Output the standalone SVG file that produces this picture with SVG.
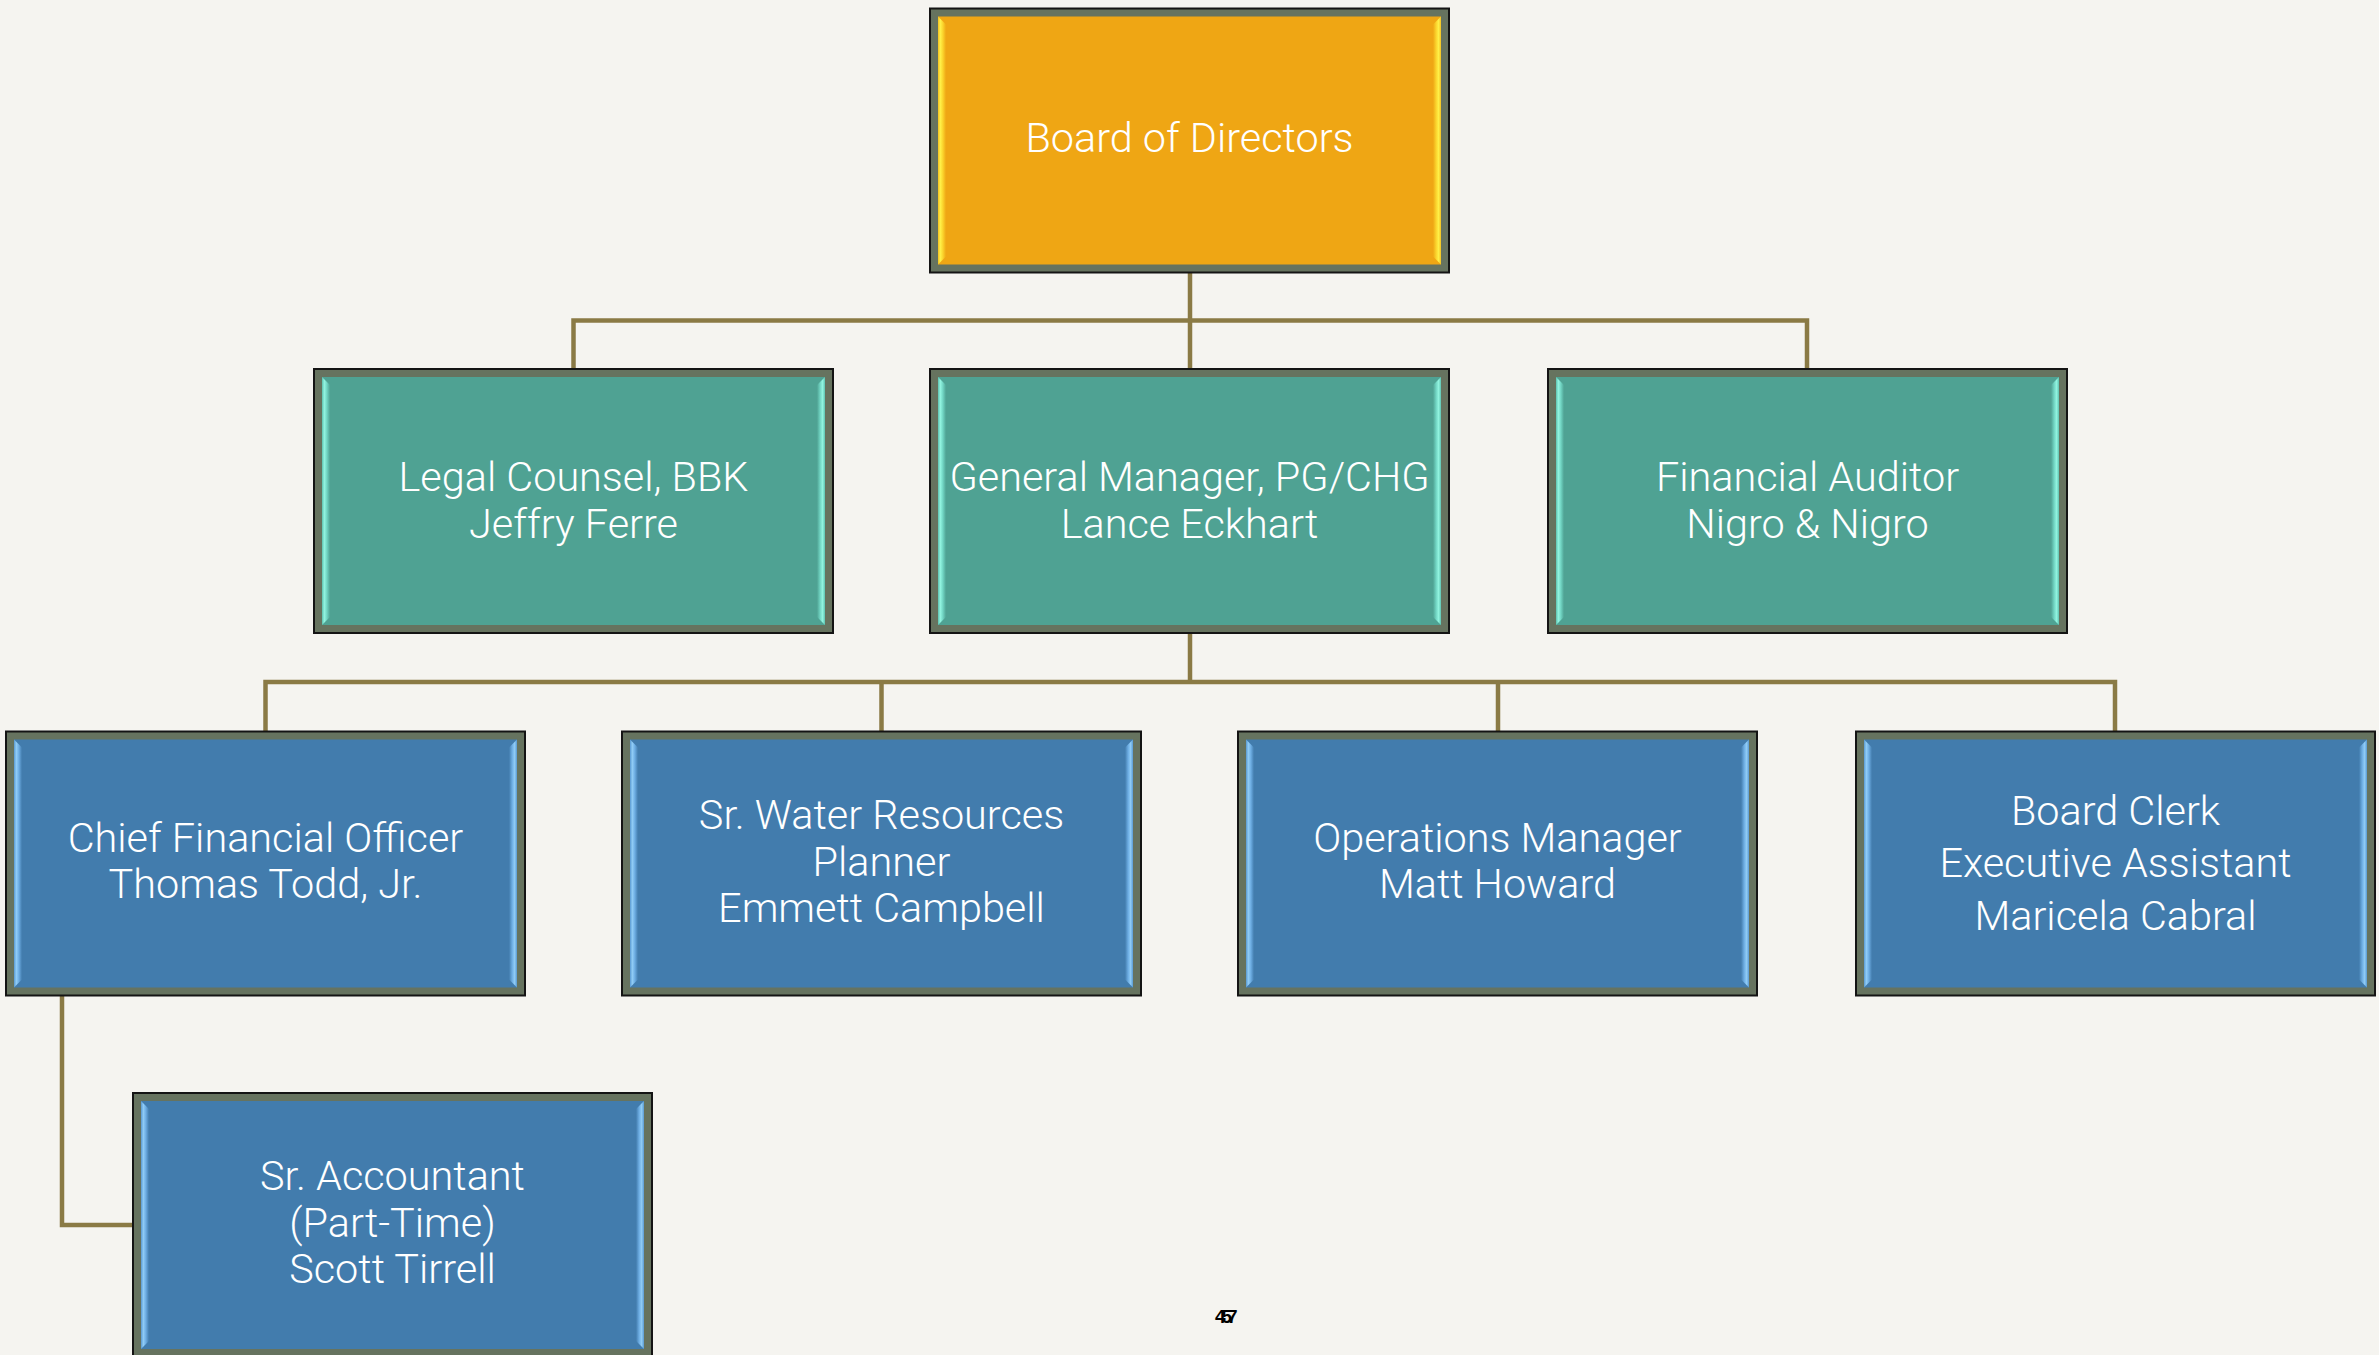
<svg xmlns="http://www.w3.org/2000/svg" xmlns:xlink="http://www.w3.org/1999/xlink" width="2379" height="1355" viewBox="0 0 2379 1355">
<style>
.bg{fill:#f5f4f0}
.frame{fill:#66735f;stroke:#141414;stroke-width:2}
.conn{fill:none;stroke:#8a7a45;stroke-width:4.5;stroke-linecap:square}
.lbl{fill:#ffffff;font-family:Roboto,"Liberation Sans",sans-serif;font-weight:300;font-size:41.4px;text-anchor:middle}
.pg{fill:#000;font-family:"Liberation Sans",Arial,sans-serif;font-weight:bold;font-size:19px}
</style>
<defs>
<linearGradient id="gL"><stop offset="0" stop-color="#f2c020"/><stop offset="0.3" stop-color="#fff048"/><stop offset="0.6" stop-color="#fbd52e"/><stop offset="1" stop-color="#efa614"/></linearGradient>
<linearGradient id="gR"><stop offset="0" stop-color="#efa614"/><stop offset="0.4" stop-color="#fbd52e"/><stop offset="0.7" stop-color="#fff048"/><stop offset="1" stop-color="#f2c020"/></linearGradient>
<linearGradient id="tL"><stop offset="0" stop-color="#5ec2b0"/><stop offset="0.3" stop-color="#92f4e0"/><stop offset="0.6" stop-color="#72d6c4"/><stop offset="1" stop-color="#4fa293"/></linearGradient>
<linearGradient id="tR"><stop offset="0" stop-color="#4fa293"/><stop offset="0.4" stop-color="#72d6c4"/><stop offset="0.7" stop-color="#92f4e0"/><stop offset="1" stop-color="#5ec2b0"/></linearGradient>
<linearGradient id="bL"><stop offset="0" stop-color="#5a9ad2"/><stop offset="0.3" stop-color="#90ccf6"/><stop offset="0.6" stop-color="#6eaee4"/><stop offset="1" stop-color="#427cad"/></linearGradient>
<linearGradient id="bR"><stop offset="0" stop-color="#427cad"/><stop offset="0.4" stop-color="#6eaee4"/><stop offset="0.7" stop-color="#90ccf6"/><stop offset="1" stop-color="#5a9ad2"/></linearGradient>
<g id="box-gold">
<rect class="frame" x="0" y="0" width="519" height="264"/>
<rect x="8" y="8" width="503" height="248" fill="#efa614"/>
<polygon points="8,8 16,16 16,248 8,256" fill="url(#gL)"/>
<polygon points="511,8 503,16 503,248 511,256" fill="url(#gR)"/>
</g>
<g id="box-teal">
<rect class="frame" x="0" y="0" width="519" height="264"/>
<rect x="8" y="8" width="503" height="248" fill="#4fa293"/>
<polygon points="8,8 16,16 16,248 8,256" fill="url(#tL)"/>
<polygon points="511,8 503,16 503,248 511,256" fill="url(#tR)"/>
</g>
<g id="box-blue">
<rect class="frame" x="0" y="0" width="519" height="264"/>
<rect x="8" y="8" width="503" height="248" fill="#427cad"/>
<polygon points="8,8 16,16 16,248 8,256" fill="url(#bL)"/>
<polygon points="511,8 503,16 503,248 511,256" fill="url(#bR)"/>
</g>
</defs>
<rect class="bg" x="0" y="0" width="2379" height="1355"/>
<g id="connectors">
<path class="conn" d="M1190 273 V320.5 M573.5 320.5 H1807 M573.5 320.5 V369 M1190 320.5 V369 M1807 320.5 V369"/>
<path class="conn" d="M1190 633 V682 M265.5 682 H2115 M265.5 682 V731 M881.5 682 V731 M1498 682 V731 M2115 682 V731"/>
<path class="conn" d="M62 996 V1225 H133"/>
</g>
<g id="board" transform="translate(930,8.5)">
<use xlink:href="#box-gold"/>
<text class="lbl" x="259.5" y="143.5">Board of Directors</text>
</g>
<g id="legal" transform="translate(314,369)">
<use xlink:href="#box-teal"/>
<text class="lbl" x="259.5" y="122">Legal Counsel, BBK</text>
<text class="lbl" x="259.5" y="169">Jeffry Ferre</text>
</g>
<g id="gm" transform="translate(930,369)">
<use xlink:href="#box-teal"/>
<text class="lbl" x="259.5" y="122">General Manager, PG/CHG</text>
<text class="lbl" x="259.5" y="169">Lance Eckhart</text>
</g>
<g id="auditor" transform="translate(1548,369)">
<use xlink:href="#box-teal"/>
<text class="lbl" x="259.5" y="122">Financial Auditor</text>
<text class="lbl" x="259.5" y="169">Nigro &amp; Nigro</text>
</g>
<g id="cfo" transform="translate(6,731.5)">
<use xlink:href="#box-blue"/>
<text class="lbl" x="259.5" y="120.5">Chief Financial Officer</text>
<text class="lbl" x="259.5" y="166.5">Thomas Todd, Jr.</text>
</g>
<g id="water" transform="translate(622,731.5)">
<use xlink:href="#box-blue"/>
<text class="lbl" x="259.5" y="97.5">Sr. Water Resources</text>
<text class="lbl" x="259.5" y="144.5">Planner</text>
<text class="lbl" x="259.5" y="190.5">Emmett Campbell</text>
</g>
<g id="ops" transform="translate(1238,731.5)">
<use xlink:href="#box-blue"/>
<text class="lbl" x="259.5" y="120.5">Operations Manager</text>
<text class="lbl" x="259.5" y="166.5">Matt Howard</text>
</g>
<g id="clerk" transform="translate(1856,731.5)">
<use xlink:href="#box-blue"/>
<text class="lbl" x="259.5" y="93.5">Board Clerk</text>
<text class="lbl" x="259.5" y="145.5">Executive Assistant</text>
<text class="lbl" x="259.5" y="198.5">Maricela Cabral</text>
</g>
<g id="accountant" transform="translate(133,1093)">
<use xlink:href="#box-blue"/>
<text class="lbl" x="259.5" y="97">Sr. Accountant</text>
<text class="lbl" x="259.5" y="144">(Part-Time)</text>
<text class="lbl" x="259.5" y="190">Scott Tirrell</text>
</g>
<g id="page-number">
<text class="pg" x="1215 1221.5 1227" y="1323">457</text>
</g>
</svg>
